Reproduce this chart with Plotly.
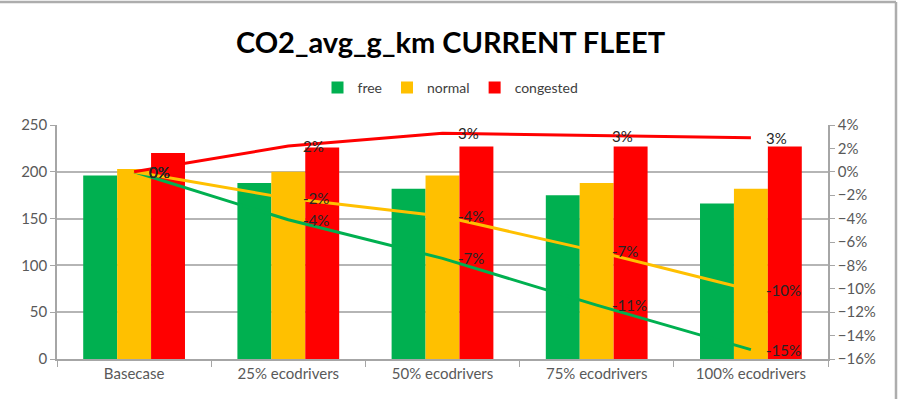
import plotly.graph_objects as go

categories = ["Basecase", "25% ecodrivers", "50% ecodrivers", "75% ecodrivers", "100% ecodrivers"]
free_vals = [196, 188, 182, 175, 166]
normal_vals = [203, 200, 196, 188, 182]
congested_vals = [220, 226, 227, 227, 227]
free_pct = [0.0, -0.041, -0.074, -0.114, -0.152]
normal_pct = [0.0, -0.0227, -0.038, -0.068, -0.101]
congested_pct = [0.0, 0.022, 0.033, 0.031, 0.029]
series_names = ["free", "normal", "congested"]
colors = ["#00B050", "#FFC000", "#FF0000"]

FONT = "Lato, Open Sans, sans-serif"
fig = go.Figure()
for name, vals, col in zip(series_names, [free_vals, normal_vals, congested_vals], colors):
    fig.add_trace(go.Bar(x=categories, y=vals, name=name, marker_color=col,
                         marker_line_width=0, yaxis="y"))

annotations = []
for name, pcts, col in zip(series_names, [free_pct, normal_pct, congested_pct], colors):
    fig.add_trace(go.Scatter(x=categories, y=pcts, mode="lines", yaxis="y2",
                             line=dict(color=col, width=3), showlegend=False,
                             hoverinfo="skip"))
    for c, p in zip(categories, pcts):
        annotations.append(dict(x=c, y=p, xref="x", yref="y2", text=f"{round(p*100):.0f}%",
                                showarrow=False, xanchor="left", yanchor="middle",
                                xshift=13, font=dict(family=FONT, size=15, color="#262626")))

L, R, T, B = 57, 73, 125, 40
W, H = 901, 399
pw, ph = W - L - R, H - T - B
xr = (896 - L) / pw
xl = -L / pw
yt = (H - B - 2) / ph
yb = -B / ph
shapes = [
    dict(type="line", xref="paper", yref="paper", x0=xl, x1=xr, y0=yt, y1=yt,
         line=dict(color="#ADADAD", width=2.5)),
    dict(type="line", xref="paper", yref="paper", x0=xr, x1=xr, y0=yt, y1=yb,
         line=dict(color="#ADADAD", width=2.5)),
]

fig.update_layout(
    width=W, height=H,
    margin=dict(l=L, r=R, t=T, b=B),
    paper_bgcolor="white", plot_bgcolor="white",
    barmode="group", bargap=0.34, bargroupgap=0,
    title=dict(text="<b>CO2_avg_g_km CURRENT FLEET</b>", x=0.5, xanchor="center",
               y=1 - 43 / H, yanchor="middle", yref="container",
               font=dict(family=FONT, size=29, color="#000000")),
    legend=dict(orientation="h", x=0.5, xanchor="center", xref="container",
                y=1 - 88 / H, yanchor="middle", yref="container",
                font=dict(family=FONT, size=14, color="#404040"), itemwidth=30),
    font=dict(family=FONT, size=14, color="#595959"),
    xaxis=dict(type="category", showline=True, linecolor="#A6A6A6", linewidth=1.5,
               ticks="outside", tickson="boundaries", ticklen=6, tickcolor="#A6A6A6",
               showgrid=False, tickfont=dict(size=15, color="#595959")),
    yaxis=dict(range=[0, 250], dtick=50, showline=True, linecolor="#A6A6A6", linewidth=1.5,
               ticks="outside", ticklen=5, tickcolor="#A6A6A6",
               showgrid=True, gridcolor="#B5B5B5", gridwidth=1.5, zeroline=False,
               tickfont=dict(size=15, color="#595959")),
    yaxis2=dict(range=[-0.16, 0.04], dtick=0.02, tickformat=".0%", overlaying="y", side="right",
                showline=True, linecolor="#A6A6A6", linewidth=1.5, ticks="outside",
                ticklen=5, tickcolor="#A6A6A6", showgrid=False, zeroline=False,
                tickfont=dict(size=15, color="#595959")),
    annotations=annotations,
    shapes=shapes,
)

fig.write_html("out.html")
